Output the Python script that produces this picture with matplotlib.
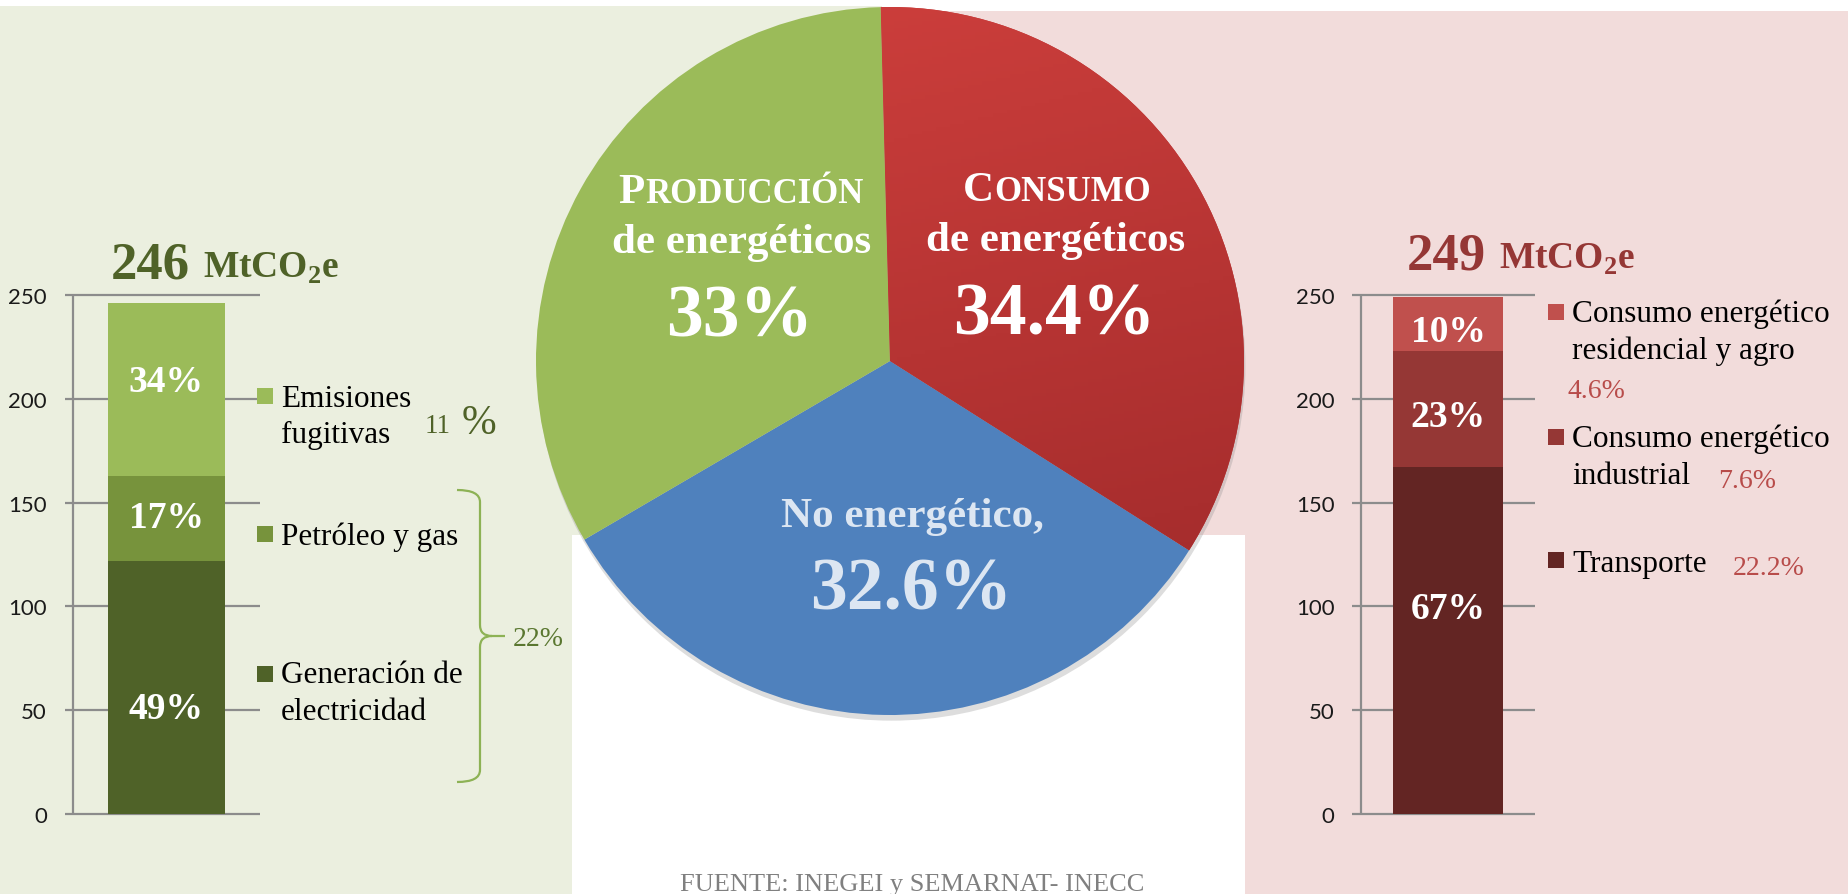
import numpy as np
import matplotlib
matplotlib.use('Agg')
import matplotlib.pyplot as plt
from matplotlib.patches import Rectangle, Circle, PathPatch
from matplotlib.path import Path
from matplotlib.colors import LinearSegmentedColormap

# ---------------- data ----------------
pie_labels = ['Consumo', 'No energético', 'Producción']
pie_values = [34.4, 32.6, 33.0]
pie_colors = ['#C0393A', '#4F81BD', '#9BBB59']

prod_total = 246
prod_categories = ['Generación de\nelectricidad', 'Petróleo y gas', 'Emisiones\nfugitivas']
prod_values = [122, 41, 83]
prod_shares = ['49%', '17%', '34%']
prod_colors = ['#4F6228', '#77933C', '#9BBB59']
prod_fugitive_national = '11'
prod_bracket_national = '22%'

cons_total = 249
cons_categories = ['Transporte', 'Consumo energético\nindustrial', 'Consumo energético\nresidencial y agro']
cons_values = [167, 56, 26]
cons_shares = ['67%', '23%', '10%']
cons_national = ['22.2%', '7.6%', '4.6%']
cons_colors = ['#632523', '#953735', '#C0504D']

yticks = [0, 50, 100, 150, 200, 250]
source = 'FUENTE: INEGEI y SEMARNAT- INECC'

# ---------------- style ----------------
plt.rcParams['font.family'] = ['Liberation Serif', 'DejaVu Serif']
plt.rcParams['mathtext.fontset'] = 'custom'
plt.rcParams['mathtext.rm'] = 'Liberation Serif'
plt.rcParams['mathtext.bf'] = 'Liberation Serif:bold'

W, H = 1848, 895
fig = plt.figure(figsize=(W / 100, H / 100), dpi=100)
fig.patch.set_facecolor('white')
renderer = fig.canvas.get_renderer()


def frac(x0, y0, x1, y1):
    """pixel box (top-left origin) -> figure fraction rect"""
    return [x0 / W, (H - y1) / H, (x1 - x0) / W, (y1 - y0) / H]


# background axes
bg = fig.add_axes([0, 0, 1, 1], zorder=-5)
bg.set_xlim(0, W); bg.set_ylim(H, 0); bg.axis('off')
bg.add_patch(Rectangle((0, 7), 882, H - 7, color='#EBEFDF', lw=0))
bg.add_patch(Rectangle((882, 12), W - 882, H - 12, color='#F2DCDB', lw=0))
bg.add_patch(Rectangle((572, 536), 673, H - 536, color='white', lw=0))

# overlay axes for text
ov = fig.add_axes([0, 0, 1, 1], zorder=10)
ov.set_xlim(0, W); ov.set_ylim(H, 0); ov.axis('off')
ov.patch.set_alpha(0)


def place_runs(x, y, parts, ha='center'):
    ts, ws = [], []
    for s, kw, gap in parts:
        t = ov.text(0, y, s, ha='left', va='baseline', **kw)
        w = t.get_window_extent(renderer=renderer).width
        ts.append(t); ws.append(w + gap)
    total = sum(ws) - parts[-1][2]
    x0 = x - total / 2 if ha == 'center' else x
    for t, w in zip(ts, ws):
        t.set_x(x0); x0 += w


# ---------------- pie ----------------
cx, cy, r = 890, 362, 354
half = r * 1.02
axp = fig.add_axes(frac(cx - half, cy - half, cx + half, cy + half), zorder=2)
axp.patch.set_alpha(0)
axp.add_patch(Circle((0.004, -0.016), 1.0, color='#8F8F8F', alpha=0.3, lw=0, zorder=0))
wedges, _ = axp.pie(pie_values, colors=pie_colors, startangle=91.5, counterclock=False,
                    radius=1, wedgeprops=dict(linewidth=0))
for w in wedges:
    w.set_zorder(1)
gx, gy = np.meshgrid(np.linspace(0, 1, 200), np.linspace(0, 1, 200))
grad = 0.8 * gy + 0.2 * gx
cmap = LinearSegmentedColormap.from_list('redgrad', ['#D0403D', '#9C2829'])
im = axp.imshow(grad, cmap=cmap, extent=(-1, 1, -1, 1), origin='upper', zorder=1.5)
im.set_clip_path(wedges[0])
axp.set_xlim(-1.02, 1.02); axp.set_ylim(-1.02, 1.02)
axp.set_aspect('equal'); axp.axis('off')

bold_w = dict(fontweight='bold', color='white')
# Producción
place_runs(741, 203, [('P', dict(fontsize=31, **bold_w), 0),
                      ('RODUCCIÓN', dict(fontsize=25, **bold_w), 0)])
ov.text(742, 253, 'de energéticos', ha='center', va='baseline', fontsize=31, **bold_w)
ov.text(740, 336, f'{pie_values[2]:g}%', ha='center', va='baseline', fontsize=53, **bold_w)
# Consumo
place_runs(1057, 201, [('C', dict(fontsize=31, **bold_w), 0),
                       ('ONSUMO', dict(fontsize=25, **bold_w), 0)])
ov.text(1056, 251, 'de energéticos', ha='center', va='baseline', fontsize=31, **bold_w)
ov.text(1054, 334, f'{pie_values[0]:g}%', ha='center', va='baseline', fontsize=53, **bold_w)
# No energético
ov.text(912, 527, 'No energético,', ha='center', va='baseline', fontsize=31,
        fontweight='bold', color='#DCE6F2')
ov.text(911, 610, f'{pie_values[1]:g}%', ha='center', va='baseline', fontsize=53,
        fontweight='bold', color='#DCE6F2')


# ---------------- stacked bars ----------------
def stacked(box, axis_x, bar_x, bar_w, values, colors, shares, label_shift, tick_pad):
    ax = fig.add_axes(frac(*box), zorder=3)
    ax.patch.set_alpha(0)
    ax.set_xlim(0, 1); ax.set_ylim(0, 250)
    ax.hlines(yticks, 0, 1, color='#8C8C8C', lw=1.6, clip_on=False, zorder=1)
    ax.vlines(axis_x, 0, 250, color='#8C8C8C', lw=1.6, zorder=1)
    bottom = 0
    for v, c, s, dy in zip(values, colors, shares, label_shift):
        ax.bar(bar_x, v, width=bar_w, bottom=bottom, color=c, lw=0, zorder=2)
        ax.annotate(s, xy=(bar_x, bottom + v / 2), xytext=(0, -9 - dy * 0.72),
                    textcoords='offset points', ha='center', va='baseline',
                    fontsize=27, fontweight='bold', color='white', zorder=3)
        bottom += v
    ax.set_yticks(yticks)
    ax.set_yticklabels([str(t) for t in yticks], fontfamily='Lato', fontsize=16, color='#1A1A1A')
    ax.set_xticks([])
    ax.tick_params(axis='y', length=0, pad=tick_pad)
    for sp in ax.spines.values():
        sp.set_visible(False)
    return ax


stacked((65, 296, 260, 815), 0.041, 0.52, 0.60, prod_values, prod_colors, prod_shares,
        [18, -4, -11], 13)
stacked((1352, 296, 1535, 815), 0.049, 0.525, 0.60, cons_values, cons_colors, cons_shares,
        [-35, 4, 4], 12.5)

# titles
place_runs(225, 278, [(str(prod_total), dict(fontsize=38, fontweight='bold', color='#4F6228'), 13),
                      (r'MtCO$_\mathbf{2}$e', dict(fontsize=27, fontweight='bold', color='#4F6228'), 0)])
place_runs(1521, 269, [(str(cons_total), dict(fontsize=38, fontweight='bold', color='#953735'), 13),
                       (r'MtCO$_\mathbf{2}$e', dict(fontsize=27, fontweight='bold', color='#953735'), 0)])


# ---------------- legends ----------------
def legend_entry(sq_x, sq_cy, color, text, tx, baseline, gap=36.5):
    ov.add_patch(Rectangle((sq_x, sq_cy - 8), 16, 16, color=color, lw=0))
    for i, line in enumerate(text.split('\n')):
        ov.text(tx, baseline + i * gap, line, ha='left', va='baseline', fontsize=22.5, color='black')


# production legend (top to bottom)
legend_entry(257, 397, prod_colors[2], prod_categories[2], 281, 407)
legend_entry(257, 535, prod_colors[1], prod_categories[1], 281, 545)
legend_entry(257, 675, prod_colors[0], prod_categories[0], 281, 683)
ov.text(425, 433, prod_fugitive_national, ha='left', va='baseline', fontsize=19.5, color='#4F6228')
ov.text(462, 434, '%', ha='left', va='baseline', fontsize=30, color='#4F6228')

# brace
bc = '#8DB255'
verts = [(457, 491), (480, 491), (480, 503), (480, 626), (480, 637), (492, 637), (505, 637),
         (492, 637), (480, 637), (480, 648), (480, 771), (480, 783), (457, 783)]
codes = [Path.MOVETO, Path.CURVE3, Path.CURVE3, Path.LINETO, Path.CURVE3, Path.CURVE3, Path.LINETO,
         Path.MOVETO, Path.CURVE3, Path.CURVE3, Path.LINETO, Path.CURVE3, Path.CURVE3]
ov.add_patch(PathPatch(Path(verts, codes), fill=False, edgecolor=bc, lw=1.6))
ov.text(513, 646, prod_bracket_national, ha='left', va='baseline', fontsize=20, color='#5A7730')

# consumption legend (top to bottom)
red_pct = '#B84C4A'
legend_entry(1548, 313, cons_colors[2], cons_categories[2], 1572, 322)
ov.text(1567, 398, cons_national[2], ha='left', va='baseline', fontsize=20, color=red_pct)
legend_entry(1548, 438, cons_colors[1], cons_categories[1], 1572, 447)
ov.text(1718, 488, cons_national[1], ha='left', va='baseline', fontsize=20, color=red_pct)
legend_entry(1548, 561, cons_colors[0], cons_categories[0], 1572, 572)
ov.text(1733, 575, cons_national[0], ha='left', va='baseline', fontsize=20, color=red_pct)

# source
ov.text(912, 891, source, ha='center', va='baseline', fontsize=19, color='#808080')

fig.savefig('out.png', dpi=100, facecolor='white')
